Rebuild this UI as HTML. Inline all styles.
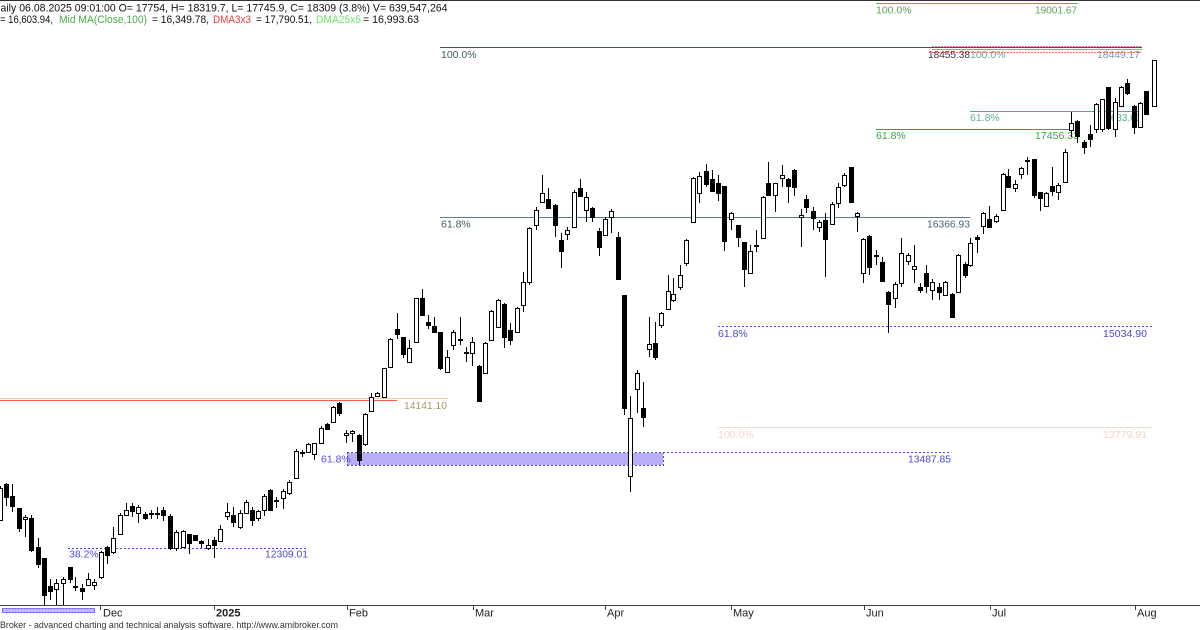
<!DOCTYPE html>
<html><head><meta charset="utf-8"><style>
html,body{margin:0;padding:0;background:#fff;}
svg{display:block;font-family:"Liberation Sans",Arial,sans-serif;}
</style></head><body>
<svg width="1200" height="630" viewBox="0 0 1200 630" xmlns="http://www.w3.org/2000/svg">
<rect x="0" y="0" width="1200" height="630" fill="#fff"/>
<rect x="0" y="0" width="1200" height="1" fill="#333"/>

<!-- header -->
<text x="0.5" y="11.5" font-size="11" fill="#111" textLength="447" lengthAdjust="spacingAndGlyphs">aily 06.08.2025 09:01:00 O= 17754, H= 18319.7, L= 17745.9, C= 18309 (3.8%) V= 639,547,264</text>
<text x="0" y="23" font-size="11" fill="#111" textLength="53" lengthAdjust="spacingAndGlyphs">= 16,603.94,</text>
<text x="59" y="23" font-size="11" fill="#4caa4c" textLength="88" lengthAdjust="spacingAndGlyphs">Mid MA(Close,100)</text>
<text x="152" y="23" font-size="11" fill="#111" textLength="57" lengthAdjust="spacingAndGlyphs">= 16,349.78,</text>
<text x="213" y="23" font-size="11" fill="#e83c3c" textLength="38" lengthAdjust="spacingAndGlyphs">DMA3x3</text>
<text x="256" y="23" font-size="11" fill="#111" textLength="56" lengthAdjust="spacingAndGlyphs">= 17,790.51,</text>
<text x="316" y="23" font-size="11" fill="#6fe06f" textLength="45" lengthAdjust="spacingAndGlyphs">DMA25x5</text>
<text x="363" y="23" font-size="11" fill="#111" textLength="56" lengthAdjust="spacingAndGlyphs">= 16,993.63</text>

<!-- fib / level lines -->
<g shape-rendering="crispEdges" fill="none">
<path d="M876 3.5H1078" stroke="#58b058"/>
<path d="M440 47.5H1142" stroke="#3e5460"/>
<path d="M932 46.5H1142" stroke="#f07070" stroke-dasharray="2,1"/>
<path d="M932 49.5H1142" stroke="#70c070"/>
<path d="M932 52.5H1142" stroke="#f07070" stroke-dasharray="2,1"/>
<path d="M970 111.5H1142" stroke="#30b89c"/>
<path d="M876 129.5H1072" stroke="#3ca03c"/>
<path d="M440 217.5H970" stroke="#5a8090"/>
<path d="M718 326.5H1152" stroke="#4848e0" stroke-dasharray="2,2"/>
<path d="M718 427.5H1152" stroke="#f8dcd6"/>
<path d="M0 398.5H448" stroke="#f0cca0"/>
<path d="M0 400.5H397" stroke="#f06048"/>
<rect x="347" y="453" width="316" height="12" fill="#b8aef8" stroke="none"/>
<path d="M347 452.5H951" stroke="#4848d8" stroke-dasharray="2,2"/>
<path d="M347 465.5H663" stroke="#4848d8" stroke-dasharray="2,2"/>
<path d="M663.5 452V466M347.5 452V466" stroke="#4848d8" stroke-dasharray="2,2"/>
<path d="M68 548.5H308" stroke="#4848d8" stroke-dasharray="2,2"/>
<rect x="2" y="608" width="93" height="5" fill="#c4b8fa" stroke="none"/>
<rect x="2.5" y="608.5" width="92" height="4" stroke="#5a5ae0" stroke-dasharray="2,1"/>
</g>

<!-- level labels -->
<g font-size="10.5">
<text x="876" y="13.5" fill="#5aa65a">100.0%</text>
<text x="1035" y="13.5" fill="#5aa65a" textLength="42" lengthAdjust="spacingAndGlyphs">19001.67</text>
<text x="441" y="58" fill="#3e5e62">100.0%</text>
<text x="928" y="58" fill="#3a3a3a" textLength="42" lengthAdjust="spacingAndGlyphs">18455.38</text>
<text x="970" y="58" fill="#6aaa8a">100.0%</text>
<text x="1097" y="58" fill="#70a090" textLength="43" lengthAdjust="spacingAndGlyphs">18449.17</text>
<text x="970" y="121" fill="#5cb096">61.8%</text>
<text x="1100" y="121" fill="#4cae96" textLength="41" lengthAdjust="spacingAndGlyphs">17633.65</text>
<text x="876" y="139" fill="#44a044">61.8%</text>
<text x="1035" y="139" fill="#44a044" textLength="44" lengthAdjust="spacingAndGlyphs">17456.33</text>
<text x="441" y="227.5" fill="#3e5e62">61.8%</text>
<text x="927" y="227.5" fill="#4a6470" textLength="43" lengthAdjust="spacingAndGlyphs">16366.93</text>
<text x="718" y="337" fill="#4a4ad4">61.8%</text>
<text x="1103" y="337" fill="#4a4ad4" textLength="44" lengthAdjust="spacingAndGlyphs">15034.90</text>
<text x="404" y="409" fill="#a89868" textLength="43" lengthAdjust="spacingAndGlyphs">14141.10</text>
<text x="718" y="438" fill="#f6d4cc">100.0%</text>
<text x="1103" y="438" fill="#f6d4cc" textLength="44" lengthAdjust="spacingAndGlyphs">13779.91</text>
<text x="321" y="462.5" fill="#5050e0">61.8%</text>
<text x="908" y="462.5" fill="#4a4ad4" textLength="43" lengthAdjust="spacingAndGlyphs">13487.85</text>
<text x="69" y="557.5" fill="#5050e0">38.2%</text>
<text x="265" y="557.5" fill="#4a4ad4" textLength="43" lengthAdjust="spacingAndGlyphs">12309.01</text>
</g>

<!-- candles -->
<g shape-rendering="crispEdges" stroke="#000" stroke-width="1">
<path fill="none" d="M0.5 486V521M6.5 483V506M12.5 484V512M19.5 508V532M25.5 515V537M31.5 515V552M38.5 538V568M44.5 558V606M50.5 579V600M56.5 579V605M63.5 577V606M70.5 567V583M75.5 577V591M82.5 584V600M88.5 573V586M94.5 579V590M101.5 551V579M107.5 546V564M113.5 527V554M120.5 513V535M126.5 503V516M132.5 503V517M138.5 505V523M145.5 512V520M151.5 510V519M157.5 507V519M163.5 507V521M170.5 514V550M176.5 530V551M183.5 530V548M189.5 534V554M195.5 535V541M201.5 540V548M208.5 539V550M214.5 537V558M220.5 525V542M227.5 503V520M233.5 507V527M240.5 510V529M246.5 500V514M252.5 507V526M258.5 510V521M264.5 494V516M270.5 489V511M276.5 497V508M283.5 489V509M289.5 480V495M296.5 449V479M302.5 450V457M308.5 443V453M314.5 443V460M321.5 426V444M327.5 423V430M333.5 406V423M339.5 402V416M346.5 430V443M352.5 430V442M359.5 434V465M365.5 413V446M371.5 393V412M377.5 392V397M384.5 368V398M390.5 338V367M397.5 313V339M403.5 337V358M409.5 340V363M416.5 298V342M422.5 289V316M428.5 315V329M434.5 317V333M440.5 332V370M447.5 350V373M453.5 330V350M460.5 317V345M466.5 347V362M472.5 337V366M479.5 365V401M485.5 342V374M491.5 310V341M498.5 299V328M504.5 303V348M510.5 323V345M517.5 307V332M523.5 272V312M529.5 227V285M536.5 207V230M542.5 175V203M548.5 188V209M555.5 204V237M561.5 233V268M567.5 227V240M574.5 190V228M580.5 179V197M586.5 192V222M592.5 207V222M599.5 228V256M605.5 217V236M611.5 209V233M618.5 232V279M624.5 295V415M630.5 396V492M637.5 370V413M643.5 382V427M649.5 317V357M655.5 322V360M661.5 312V328M668.5 275V310M673.5 278V302M680.5 265V290M686.5 239V266M693.5 177V222M699.5 172V203M706.5 164V187M712.5 170V192M718.5 175V201M724.5 186V251M731.5 212V230M738.5 225V247M744.5 242V287M750.5 245V274M756.5 230V252M763.5 196V239M768.5 162V195M775.5 183V212M782.5 165V187M788.5 178V203M794.5 169V196M801.5 209V247M806.5 195V213M813.5 207V230M819.5 220V232M825.5 213V277M832.5 202V225M838.5 183V208M844.5 173V187M851.5 167V203M857.5 212V232M863.5 238V283M869.5 235V275M876.5 250V265M882.5 257V282M888.5 291V333M895.5 282V308M901.5 238V287M908.5 253V265M914.5 245V283M920.5 283V293M926.5 265V293M932.5 279V300M939.5 283V300M945.5 281V296M952.5 293V318M958.5 254V293M965.5 262V278M970.5 238V267M977.5 235V253M983.5 212V234M989.5 206V227M996.5 214V223M1003.5 173V211M1008.5 169V187M1015.5 180V192M1021.5 167V179M1027.5 157V175M1034.5 159V198M1040.5 192V211M1046.5 192V206M1052.5 167V196M1058.5 183V200M1065.5 149V183M1071.5 112V137M1077.5 120V143M1084.5 140V154M1090.5 125V147M1096.5 103V133M1102.5 99V132M1108.5 87V130M1115.5 98V137M1121.5 86V107M1127.5 79V95M1134.5 105V134M1140.5 102V128M1146.5 91V115M1154.5 60V106"/>
<path fill="#000" d="M4.5 484.5h4v13h-4zM10.5 496.5h4v10h-4zM17.5 508.5h4v20h-4zM29.5 518.5h4v32h-4zM36.5 547.5h4v17h-4zM42.5 558.5h4v37h-4zM48.5 586.5h4v5h-4zM68.5 567.5h4v12h-4zM80.5 588.5h4v3h-4zM105.5 547.5h4v8h-4zM130.5 506.5h4v5h-4zM143.5 514.5h4v4h-4zM161.5 510.5h4v5h-4zM168.5 516.5h4v32h-4zM187.5 534.5h4v9h-4zM193.5 535.5h4v5h-4zM199.5 541.5h4v2h-4zM212.5 540.5h4v5h-4zM231.5 515.5h4v7h-4zM250.5 510.5h4v10h-4zM268.5 490.5h4v20h-4zM325.5 424.5h4v5h-4zM337.5 403.5h4v10h-4zM357.5 435.5h4v25h-4zM395.5 329.5h4v5h-4zM401.5 337.5h4v17h-4zM420.5 298.5h4v17h-4zM426.5 322.5h4v3h-4zM432.5 326.5h4v6h-4zM438.5 332.5h4v36h-4zM477.5 366.5h4v35h-4zM502.5 304.5h4v33h-4zM508.5 330.5h4v10h-4zM546.5 199.5h4v9h-4zM553.5 205.5h4v20h-4zM559.5 240.5h4v11h-4zM578.5 188.5h4v8h-4zM590.5 208.5h4v9h-4zM597.5 231.5h4v16h-4zM616.5 237.5h4v42h-4zM622.5 295.5h4v113h-4zM641.5 408.5h4v9h-4zM653.5 343.5h4v14h-4zM704.5 171.5h4v13h-4zM710.5 179.5h4v12h-4zM716.5 183.5h4v10h-4zM722.5 186.5h4v55h-4zM736.5 225.5h4v12h-4zM742.5 242.5h4v27h-4zM766.5 183.5h4v12h-4zM786.5 179.5h4v7h-4zM792.5 170.5h4v17h-4zM804.5 199.5h4v8h-4zM811.5 211.5h4v7h-4zM823.5 220.5h4v19h-4zM849.5 167.5h4v35h-4zM867.5 236.5h4v31h-4zM880.5 262.5h4v19h-4zM886.5 292.5h4v12h-4zM918.5 287.5h4v3h-4zM924.5 273.5h4v13h-4zM937.5 287.5h4v5h-4zM950.5 294.5h4v23h-4zM963.5 264.5h4v11h-4zM975.5 237.5h4v2h-4zM987.5 219.5h4v8h-4zM1006.5 176.5h4v11h-4zM1032.5 159.5h4v36h-4zM1038.5 192.5h4v6h-4zM1050.5 186.5h4v5h-4zM1075.5 121.5h4v15h-4zM1082.5 142.5h4v5h-4zM1088.5 134.5h4v5h-4zM1106.5 87.5h4v41h-4zM1125.5 83.5h4v10h-4zM1132.5 106.5h4v21h-4zM1144.5 91.5h4v23h-4z"/>
<path fill="#fff" d="M-1.5 488.5h4v32h-4zM23.5 517.5h4v2h-4zM54.5 583.5h4v6h-4zM61.5 579.5h4v4h-4zM73.5 586.5h4v1h-4zM86.5 579.5h4v6h-4zM92.5 582.5h4v3h-4zM99.5 552.5h4v25h-4zM111.5 538.5h4v14h-4zM118.5 515.5h4v19h-4zM124.5 510.5h4v5h-4zM136.5 507.5h4v6h-4zM149.5 513.5h4v1h-4zM155.5 513.5h4v1h-4zM174.5 532.5h4v16h-4zM181.5 531.5h4v16h-4zM206.5 545.5h4v3h-4zM218.5 529.5h4v12h-4zM225.5 512.5h4v4h-4zM238.5 513.5h4v14h-4zM244.5 502.5h4v11h-4zM256.5 511.5h4v7h-4zM262.5 496.5h4v14h-4zM274.5 500.5h4v1h-4zM281.5 491.5h4v7h-4zM287.5 482.5h4v11h-4zM294.5 451.5h4v27h-4zM300.5 452.5h4v1h-4zM306.5 444.5h4v8h-4zM312.5 443.5h4v11h-4zM319.5 428.5h4v15h-4zM331.5 407.5h4v15h-4zM344.5 433.5h4v2h-4zM350.5 431.5h4v2h-4zM363.5 414.5h4v30h-4zM369.5 397.5h4v14h-4zM375.5 393.5h4v3h-4zM382.5 368.5h4v29h-4zM388.5 339.5h4v28h-4zM407.5 348.5h4v14h-4zM414.5 298.5h4v44h-4zM445.5 357.5h4v15h-4zM451.5 332.5h4v13h-4zM458.5 339.5h4v1h-4zM464.5 352.5h4v1h-4zM470.5 342.5h4v11h-4zM483.5 343.5h4v30h-4zM489.5 311.5h4v29h-4zM496.5 300.5h4v27h-4zM515.5 308.5h4v24h-4zM521.5 282.5h4v23h-4zM527.5 228.5h4v54h-4zM534.5 210.5h4v15h-4zM540.5 193.5h4v9h-4zM565.5 230.5h4v4h-4zM572.5 192.5h4v35h-4zM584.5 197.5h4v13h-4zM603.5 219.5h4v16h-4zM609.5 211.5h4v6h-4zM628.5 418.5h4v58h-4zM635.5 373.5h4v16h-4zM647.5 344.5h4v5h-4zM659.5 313.5h4v12h-4zM666.5 291.5h4v18h-4zM671.5 294.5h4v6h-4zM678.5 275.5h4v12h-4zM684.5 240.5h4v23h-4zM691.5 178.5h4v44h-4zM697.5 176.5h4v17h-4zM729.5 213.5h4v6h-4zM748.5 251.5h4v22h-4zM754.5 245.5h4v1h-4zM761.5 197.5h4v41h-4zM773.5 183.5h4v12h-4zM780.5 175.5h4v3h-4zM799.5 215.5h4v2h-4zM817.5 222.5h4v5h-4zM830.5 204.5h4v20h-4zM836.5 187.5h4v16h-4zM842.5 175.5h4v10h-4zM855.5 213.5h4v3h-4zM861.5 239.5h4v34h-4zM874.5 255.5h4v1h-4zM893.5 284.5h4v14h-4zM899.5 253.5h4v30h-4zM906.5 255.5h4v6h-4zM912.5 266.5h4v3h-4zM930.5 282.5h4v8h-4zM943.5 282.5h4v13h-4zM956.5 255.5h4v37h-4zM968.5 243.5h4v22h-4zM981.5 213.5h4v13h-4zM994.5 216.5h4v5h-4zM1001.5 174.5h4v36h-4zM1013.5 184.5h4v4h-4zM1019.5 168.5h4v6h-4zM1025.5 160.5h4v1h-4zM1044.5 193.5h4v13h-4zM1056.5 185.5h4v7h-4zM1063.5 152.5h4v30h-4zM1069.5 123.5h4v7h-4zM1094.5 104.5h4v25h-4zM1100.5 99.5h4v30h-4zM1113.5 102.5h4v27h-4zM1119.5 87.5h4v19h-4zM1138.5 103.5h4v24h-4zM1152.5 60.5h4v46h-4z"/>
</g>

<!-- axis -->
<g shape-rendering="crispEdges">
<path d="M0 605.5H1200" stroke="#404040" fill="none"/>
<path d="M100.5 606V610M214.5 606V610M347.5 606V610M473.5 606V610M605.5 606V610M731.5 606V610M864.5 606V610M990.5 606V610M1135.5 606V610" stroke="#404040" fill="none"/>
</g>
<g font-size="11" fill="#222">
<text x="103" y="616.5">Dec</text>
<text x="216" y="616.5" font-weight="bold">2025</text>
<text x="349" y="616.5">Feb</text>
<text x="475" y="616.5">Mar</text>
<text x="607" y="616.5">Apr</text>
<text x="733" y="616.5">May</text>
<text x="866" y="616.5">Jun</text>
<text x="992" y="616.5">Jul</text>
<text x="1137" y="616.5">Aug</text>
</g>
<text x="0" y="628" font-size="9.5" fill="#333" textLength="338" lengthAdjust="spacingAndGlyphs">Broker - advanced charting and technical analysis software. http://www.amibroker.com</text>
</svg>
</body></html>
